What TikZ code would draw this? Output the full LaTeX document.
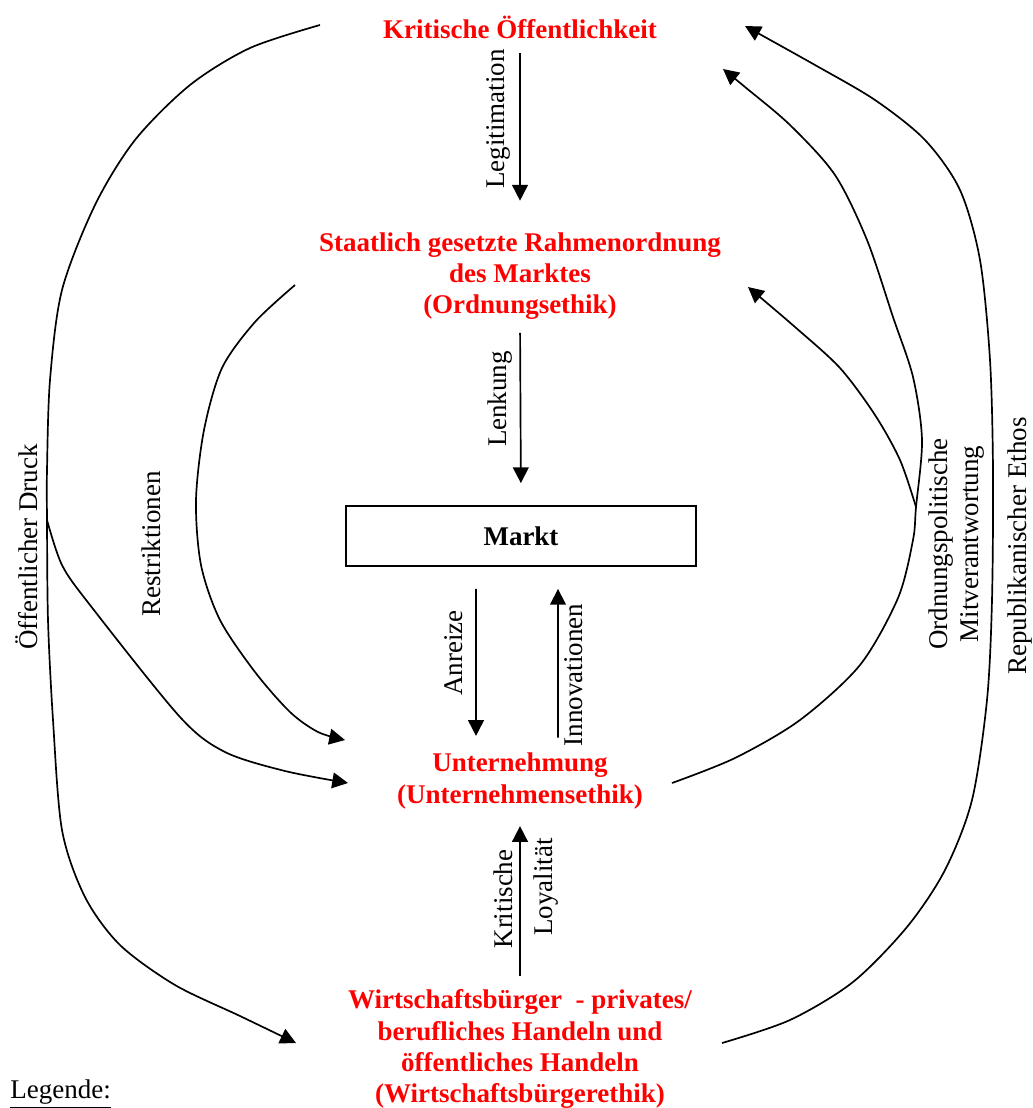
\documentclass[tikz,border=0pt,12pt]{standalone}
\usepackage{fontspec}
\setmainfont{Liberation Serif}
\usetikzlibrary{arrows.meta,calc}

\begin{document}
\begin{tikzpicture}[scale=0.15625]
\tikzstyle{every node}+=[inner sep=0pt]
\tikzstyle{titel}=[text=red,font=\bfseries\fontsize{12}{13.8}\selectfont,align=center]
\tikzstyle{linie}=[black,line width=0.75pt]
\tikzstyle{pfeil}=[linie,-{Triangle[length=7pt,width=7pt]}]
\tikzstyle{beschr}=[rotate=90,align=center,font=\fontsize{12}{13.8}\selectfont]
\useasboundingbox (0,0) rectangle (103.2,-110.8);
\draw (52.0,-2.7) node[titel] (krit) {Kritische Öffentlichkeit};
\draw (52.0,-27.6) node[titel] (staat) {Staatlich gesetzte Rahmenordnung\\des Marktes\\(Ordnungsethik)};
\draw (52.1,-53.6) node[draw,line width=0.75pt,minimum width=155.5pt,minimum height=26.7pt,font=\bfseries] (markt) {Markt};
\draw (52.0,-78.1) node[titel] (unter) {Unternehmung\\(Unternehmensethik)};
\draw (52.0,-104.9) node[titel] (buerger) {Wirtschaftsbürger~ - privates/\\berufliches Handeln und\\öffentliches Handeln\\(Wirtschaftsbürgerethik)};
\draw (1.0,-109.85) node[anchor=base west] (legende) {\underline{Legende:}};
\draw (49.8,-11.9) node[beschr] (legit) {Legitimation};
\draw (50.0,-39.9) node[beschr] (lenk) {Lenkung};
\draw (45.4,-65.3) node[beschr] (anreiz) {Anreize};
\draw (57.4,-67.5) node[beschr] (innov) {Innovationen};
\draw (50.3,-89.9) node[beschr] (kritisch) {Kritische};
\draw (54.6,-88.7) node[beschr] (loyal) {Loyalität};
\draw (2.7,-54.7) node[beschr] (druck) {Öffentlicher Druck};
\draw (15.1,-54.4) node[beschr] (restr) {Restriktionen};
\draw (95.7,-54.4) node[beschr] (ordpol) {Ordnungspolitische\\Mitverantwortung};
\draw (102.0,-54.6) node[beschr] (repub) {Republikanischer Ethos};
\coordinate (druckA) at (32.0,-2.5);
\coordinate (druckX) at (4.7,-52.0);
\coordinate (druckB) at (29.6,-104.3);
\coordinate (druckC) at (34.8,-78.3);
\coordinate (restrA) at (29.5,-28.5);
\coordinate (restrB) at (34.5,-74.0);
\coordinate (ordA) at (67.2,-78.3);
\coordinate (ordX) at (91.6,-50.7);
\coordinate (ordB) at (72.3,-6.9);
\coordinate (ordC) at (74.8,-28.7);
\coordinate (repA) at (72.2,-104.3);
\coordinate (repB) at (74.5,-2.6);
\draw [pfeil,shorten <=6.5pt,shorten >=14pt] (krit.south) -- (staat.north);
\draw [pfeil,shorten <=5.8pt,shorten >=9.8pt] (staat.south) -- (markt.north);
\draw [pfeil,shorten <=9.8pt,shorten >=7.5pt] ($(markt.south)+(-4.5,0)$) -- ($(unter.north)+(-4.4,0)$);
\draw [pfeil,shorten <=6.7pt,shorten >=9.8pt] ($(unter.north)+(3.8,0)$) -- ($(markt.south)+(3.7,0)$);
\draw [pfeil,shorten <=6.2pt,shorten >=7.5pt] (buerger.north) -- (unter.south);
\draw [pfeil] plot[smooth] coordinates {(druckA) (25.0,-4.8) (19.0,-8.5) (13.5,-14.0) (9.5,-20.5) (6.2,-29.0) (5.0,-38.0) (4.7,-47.0) (druckX) (4.8,-62.0) (5.3,-72.0) (6.2,-83.0) (8.5,-89.7) (12.0,-94.5) (17.5,-98.5) (24.0,-101.6) (druckB)};
\draw [pfeil] plot[smooth] coordinates {(druckX) (6.2,-56.5) (9.0,-60.5) (18.0,-71.7) (22.5,-75.2) (28.5,-77.1) (druckC)};
\draw [pfeil] plot[smooth] coordinates {(restrA) (25.5,-32.2) (22.2,-36.8) (20.4,-43.0) (19.6,-50.0) (20.1,-56.5) (22.0,-62.0) (25.5,-67.2) (29.0,-71.2) (31.8,-73.2) (restrB)};
\draw [pfeil] plot[smooth] coordinates {(ordA) (73.5,-75.8) (80.0,-72.0) (86.0,-66.5) (89.8,-59.8) (91.3,-54.0) (ordX) (92.2,-44.0) (91.3,-37.7) (89.3,-31.7) (86.7,-24.0) (83.5,-17.5) (79.0,-12.5) (74.5,-8.7) (ordB)};
\draw [pfeil] plot[smooth] coordinates {(ordX) (90.0,-46.0) (87.5,-41.5) (84.0,-36.8) (79.5,-32.7) (ordC)};
\draw [pfeil] plot[smooth] coordinates {(repA) (79.0,-102.0) (85.3,-98.2) (90.7,-92.7) (94.5,-87.0) (97.2,-80.0) (98.7,-70.0) (99.2,-60.0) (99.3,-47.0) (99.0,-36.0) (98.0,-26.0) (96.0,-19.0) (92.5,-14.0) (87.5,-10.0) (81.5,-6.5) (repB)};
\end{tikzpicture}
\end{document}
